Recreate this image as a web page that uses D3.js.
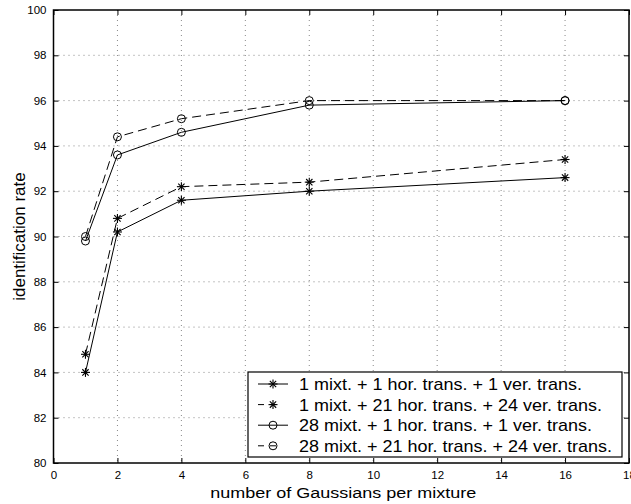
<!DOCTYPE html>
<html><head><meta charset="utf-8">
<script src="https://cdn.jsdelivr.net/npm/d3@7"></script>
<style>body{margin:0;background:#fff}svg{display:block}text{font-family:"Liberation Sans",Arial,sans-serif}</style>
</head><body>
<script>
const xValues = [1, 2, 4, 8, 16];
const seriesNames = [
  "1 mixt. + 1 hor. trans. + 1 ver. trans.",
  "1 mixt. + 21 hor. trans. + 24 ver. trans.",
  "28 mixt. + 1 hor. trans. + 1 ver. trans.",
  "28 mixt. + 21 hor. trans. + 24 ver. trans."
];
const s1 = [84.0, 90.2, 91.6, 92.0, 92.6];
const s2 = [84.8, 90.8, 92.2, 92.4, 93.4];
const s3 = [89.8, 93.6, 94.6, 95.8, 96.0];
const s4 = [90.0, 94.4, 95.2, 96.0, 96.0];
const xTicks = [0, 2, 4, 6, 8, 10, 12, 14, 16, 18];
const yTicks = [80, 82, 84, 86, 88, 90, 92, 94, 96, 98, 100];

const series = [
  {name: seriesNames[0], values: s1, dashed: false, marker: "star"},
  {name: seriesNames[1], values: s2, dashed: true, marker: "star"},
  {name: seriesNames[2], values: s3, dashed: false, marker: "circle"},
  {name: seriesNames[3], values: s4, dashed: true, marker: "circle"}
];

const W = 631, H = 504;
const L = 53.5, R = 629, T = 10, B = 463;
const svg = d3.select("body").append("svg").attr("width", W).attr("height", H);
const x = d3.scaleLinear().domain([0, 18]).range([L, R]);
const y = d3.scaleLinear().domain([80, 100]).range([B, T]);

// grid
const grid = svg.append("g").attr("stroke", "#888").attr("stroke-width", 1).attr("stroke-dasharray", "1,4");
xTicks.slice(1, -1).forEach(t => grid.append("line").attr("x1", x(t)).attr("x2", x(t)).attr("y1", T).attr("y2", B));
yTicks.slice(1, -1).forEach(t => grid.append("line").attr("x1", L).attr("x2", R).attr("y1", y(t)).attr("y2", y(t)));

// axes
const tk = 5;
svg.append("g").attr("transform", `translate(0,${B})`)
  .call(d3.axisBottom(x).tickValues(xTicks).tickSize(-tk).tickPadding(8).tickFormat(d3.format("d")))
  .call(g => g.select(".domain").remove());
svg.append("g").attr("transform", `translate(0,${T})`)
  .call(d3.axisTop(x).tickValues(xTicks).tickSize(-tk).tickFormat(""))
  .call(g => g.select(".domain").remove());
svg.append("g").attr("transform", `translate(${L},0)`)
  .call(d3.axisLeft(y).tickValues(yTicks).tickSize(-tk).tickPadding(7).tickFormat(d3.format("d")))
  .call(g => g.select(".domain").remove());
svg.append("g").attr("transform", `translate(${R},0)`)
  .call(d3.axisRight(y).tickValues(yTicks).tickSize(-tk).tickFormat(""))
  .call(g => g.select(".domain").remove());
svg.selectAll(".tick line").attr("stroke", "#000");
svg.selectAll(".tick text").attr("font-size", 11.5).attr("fill", "#000").attr("font-family", '"Liberation Sans",Arial,sans-serif');
svg.append("rect").attr("x", L).attr("y", T).attr("width", R - L).attr("height", B - T)
  .attr("fill", "none").attr("stroke", "#000").attr("stroke-width", 1.5);

// labels
svg.append("text").attr("transform", `translate(${(L + R) / 2 + 2},498) scale(1,0.86)`).attr("text-anchor", "middle")
  .attr("font-size", 18).text("number of Gaussians per mixture");
svg.append("text").attr("transform", `translate(25,${(T + B) / 2}) rotate(-90)`).attr("text-anchor", "middle")
  .attr("font-size", 17).text("identification rate");

function drawMarker(g, type, cx, cy) {
  if (type === "circle") {
    g.append("circle").attr("cx", cx).attr("cy", cy).attr("r", 4).attr("fill", "none").attr("stroke", "#000").attr("stroke-width", 1);
  } else {
    const r = 4.5;
    [[r, 0], [0, r], [r * 0.7, r * 0.7], [r * 0.7, -r * 0.7]].forEach(([dx, dy]) =>
      g.append("line").attr("x1", cx - dx).attr("y1", cy - dy).attr("x2", cx + dx).attr("y2", cy + dy)
        .attr("stroke", "#000").attr("stroke-width", 1.1));
  }
}

const line = d3.line().x((d, i) => x(xValues[i])).y(d => y(d));
const plot = svg.append("g");
series.forEach(s => {
  plot.append("path").datum(s.values).attr("d", line).attr("fill", "none").attr("stroke", "#000")
    .attr("stroke-width", 1).attr("stroke-dasharray", s.dashed ? "9,5" : null);
  s.values.forEach((v, i) => drawMarker(plot, s.marker, x(xValues[i]), y(v)));
});

// legend
const lg = svg.append("g");
const lx = 248, ly = 372, lw = 374, lh = 85;
lg.append("rect").attr("x", lx).attr("y", ly).attr("width", lw).attr("height", lh).attr("fill", "#fff").attr("stroke", "#000").attr("stroke-width", 1.2);
series.forEach((s, i) => {
  const cy = ly + 12 + i * 20.6;
  lg.append("line").attr("x1", 258).attr("x2", s.dashed ? 276 : 288).attr("y1", cy).attr("y2", cy).attr("stroke", "#000")
    .attr("stroke-width", 1).attr("stroke-dasharray", s.dashed ? "6,6" : null);
  drawMarker(lg, s.marker, 273, cy);
  lg.append("text").attr("transform", `translate(299,${cy + 6}) scale(1,0.9)`).attr("font-size", 18).text(s.name);
});
</script>
</body></html>
